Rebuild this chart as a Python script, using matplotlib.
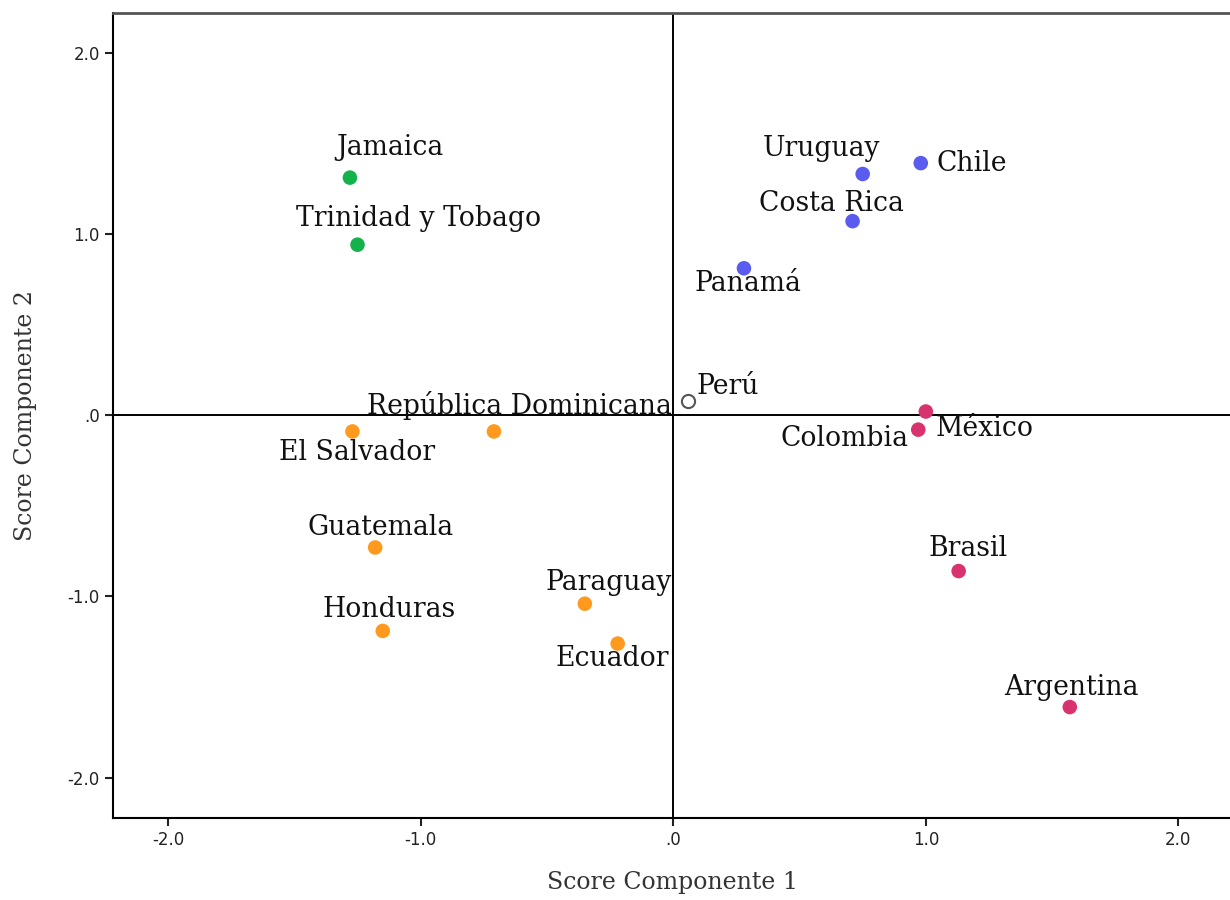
import numpy as np
import matplotlib
matplotlib.use('Agg')
import matplotlib.pyplot as plt

# country scores
paises = ['Jamaica', 'Trinidad y Tobago', 'Uruguay', 'Chile', 'Costa Rica', 'Panamá',
          'Perú', 'México', 'Colombia', 'Brasil', 'Argentina', 'República Dominicana',
          'El Salvador', 'Guatemala', 'Paraguay', 'Honduras', 'Ecuador']
comp1 = [-1.28, -1.25, 0.75, 0.98, 0.71, 0.28,
         0.06, 1.00, 0.97, 1.13, 1.57, -0.71,
         -1.27, -1.18, -0.35, -1.15, -0.22]
comp2 = [1.31, 0.94, 1.33, 1.39, 1.07, 0.81,
         0.08, 0.02, -0.08, -0.86, -1.61, -0.09,
         -0.09, -0.73, -1.04, -1.19, -1.26]
grupo = ['verde', 'verde', 'azul', 'azul', 'azul', 'azul',
         'peru', 'rosa', 'rosa', 'rosa', 'rosa', 'naranja',
         'naranja', 'naranja', 'naranja', 'naranja', 'naranja']
ticks = [-2.0, -1.0, 0.0, 1.0, 2.0]
tick_lbl = ['-2.0', '-1.0', '.0', '1.0', '2.0']

colores = {'verde': '#14b24a', 'azul': '#5a5cf0', 'rosa': '#d8336f', 'naranja': '#ff9a1e'}

# label offsets in pixels (dx right, dy down) and alignment
offs = {'Jamaica': (40, -30, 'center'), 'Trinidad y Tobago': (61, -26, 'center'),
        'Uruguay': (-41, -25, 'center'), 'Chile': (16, 0, 'left'),
        'Costa Rica': (-21, -18, 'center'), 'Panamá': (4, 15, 'center'),
        'Perú': (8, -14, 'left'), 'México': (10, 17, 'left'),
        'Colombia': (-10, 9, 'right'), 'Brasil': (9, -23, 'center'),
        'Argentina': (2, -20, 'center'), 'República Dominicana': (26, -26, 'center'),
        'El Salvador': (5, 21, 'center'), 'Guatemala': (5, -20, 'center'),
        'Paraguay': (24, -21, 'center'), 'Honduras': (6, -21, 'center'),
        'Ecuador': (-5, 15, 'center')}

fig = plt.figure(figsize=(12.3, 9), dpi=100)
ax = fig.add_axes([113/1230, 1-818/900, 1-113/1230+0.002, (818-13)/900])

ax.axhline(0, color='black', lw=1.4, zorder=1)
ax.axvline(0, color='black', lw=1.4, zorder=1)

for i in range(len(paises)):
    if grupo[i] == 'peru':
        ax.scatter(comp1[i], comp2[i], s=90, facecolors='white', edgecolors='#555555',
                   linewidths=1.5, zorder=3)
    else:
        ax.scatter(comp1[i], comp2[i], s=110, color=colores[grupo[i]], edgecolors='none', zorder=3)
    dx, dy, ha = offs[paises[i]]
    ax.annotate(paises[i], (comp1[i], comp2[i]), xytext=(dx*0.72, -dy*0.72),
                textcoords='offset points', ha=ha, va='center',
                fontsize=19.2, family='DejaVu Serif', color='#111111', zorder=4)

ax.set_xlim(-2.218, 2.214)
ax.set_ylim(-2.222, 2.218)
ax.set_xticks(ticks)
ax.set_xticklabels(tick_lbl)
ax.set_yticks(ticks)
ax.set_yticklabels(tick_lbl)
ax.tick_params(direction='out', length=6, width=1.5, labelsize=12, colors='#222222')
ax.spines['right'].set_visible(False)
ax.spines['top'].set_color('#555555')
ax.spines['top'].set_linewidth(2)
for s in ['left', 'bottom']:
    ax.spines[s].set_linewidth(1.5)

ax.set_xlabel('Score Componente 1', family='DejaVu Serif', fontsize=17, color='#333333', labelpad=16)
ax.set_ylabel('Score Componente 2', family='DejaVu Serif', fontsize=17, color='#333333', labelpad=22)

fig.savefig('out.png', dpi=100)
